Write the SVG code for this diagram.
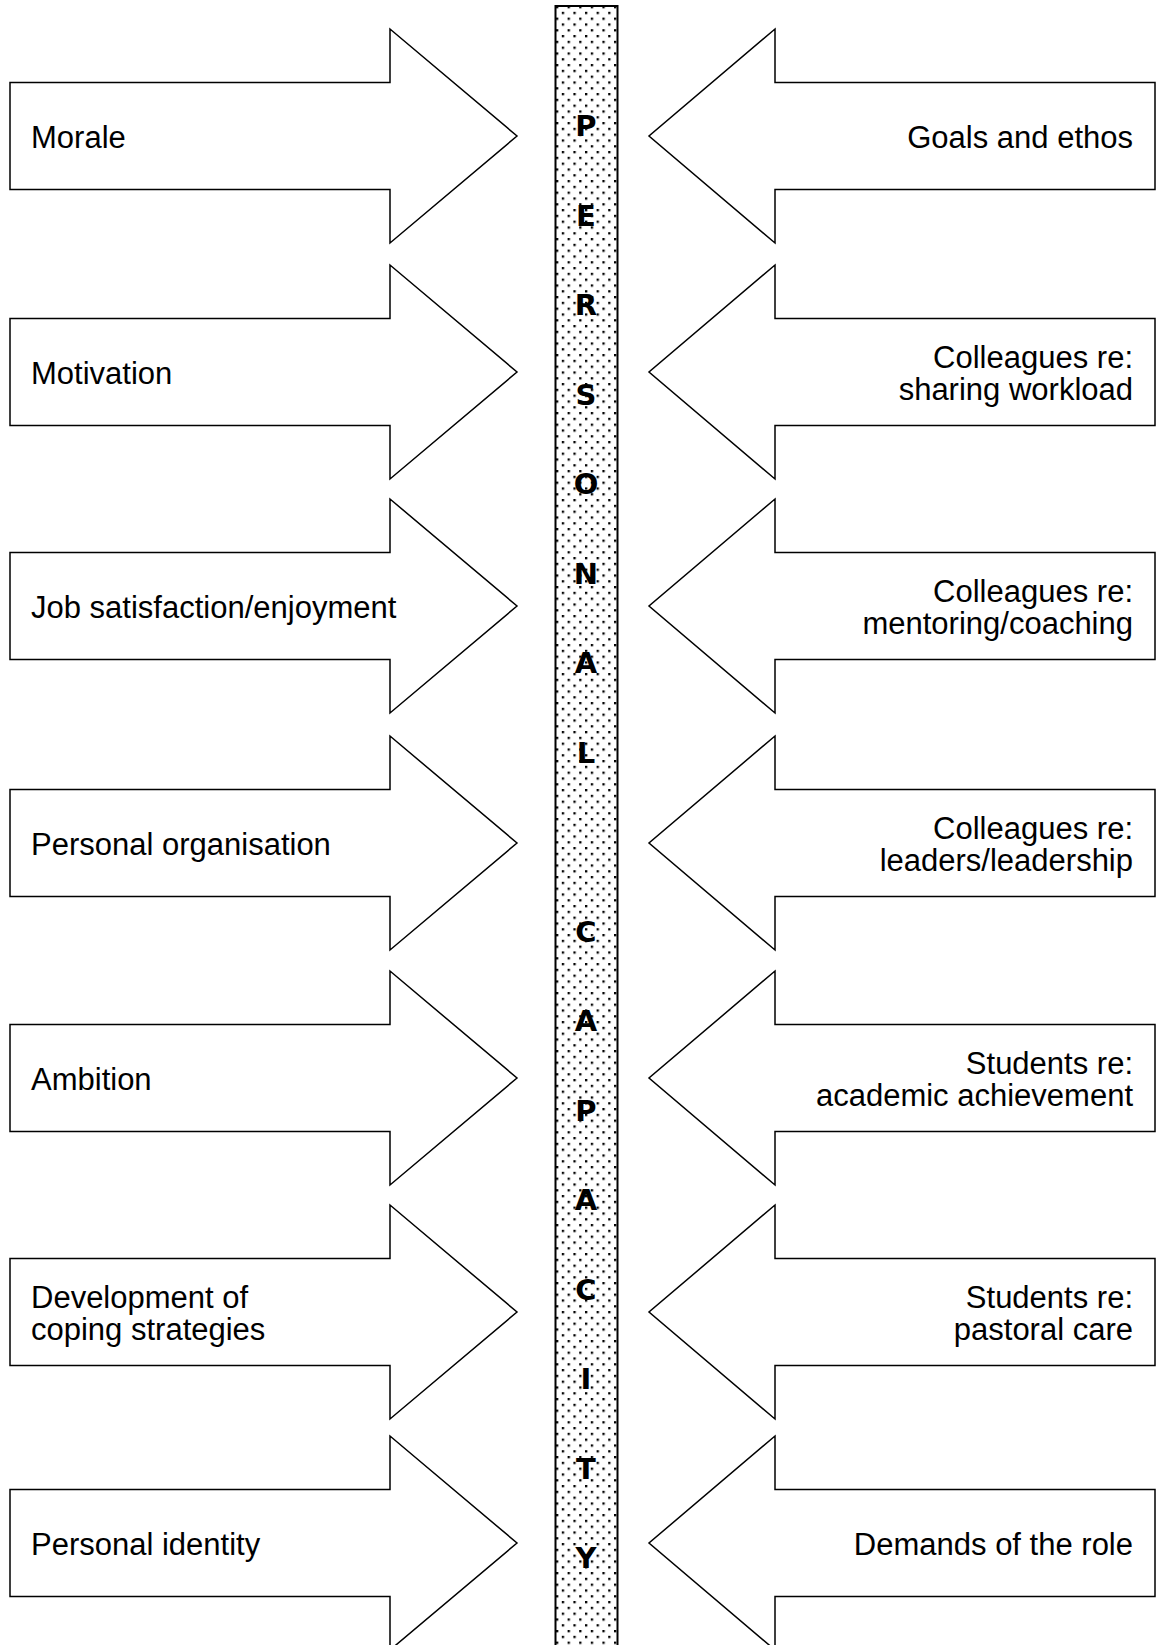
<svg xmlns="http://www.w3.org/2000/svg" xmlns:xlink="http://www.w3.org/1999/xlink" width="1160" height="1645" viewBox="0 0 1160 1645">
<style>
.arrow{fill:#ffffff;stroke:#000000;stroke-width:1.5;stroke-linejoin:miter}
.lbl{font-family:"Liberation Sans",Arial,sans-serif;font-size:31px;fill:#000000}
.end{text-anchor:end}
.ltr{font-family:"DejaVu Sans","Liberation Sans",sans-serif;font-size:29px;font-weight:bold;fill:#000000;text-anchor:middle}
</style>
<defs>
<pattern id="dots" patternUnits="userSpaceOnUse" x="556" y="6" width="11.6" height="11.6">
<rect x="0" y="0" width="2.3" height="2.3" fill="#000"/>
<rect x="5.8" y="5.8" width="2.3" height="2.3" fill="#000"/>
</pattern>
<path id="arrowL" d="M10,-53.5 H390 V-107 L517,0 L390,107 V53.5 H10 Z"/>
<path id="arrowR" d="M1155,-53.5 H775 V-107 L649,0 L775,107 V53.5 H1155 Z"/>
</defs>
<rect width="1160" height="1645" fill="#ffffff"/>

<g id="bar">
<rect x="555.5" y="6" width="62" height="1650" fill="url(#dots)" stroke="#000" stroke-width="2"/>
<text class="ltr" x="586" y="136">P</text>
<text class="ltr" x="586" y="225.5">E</text>
<text class="ltr" x="586" y="315">R</text>
<text class="ltr" x="586" y="404.5">S</text>
<text class="ltr" x="586" y="494">O</text>
<text class="ltr" x="586" y="583.5">N</text>
<text class="ltr" x="586" y="673">A</text>
<text class="ltr" x="586" y="762.5">L</text>
<text class="ltr" x="586" y="941.5">C</text>
<text class="ltr" x="586" y="1031">A</text>
<text class="ltr" x="586" y="1120.5">P</text>
<text class="ltr" x="586" y="1210">A</text>
<text class="ltr" x="586" y="1299.5">C</text>
<text class="ltr" x="586" y="1389">I</text>
<text class="ltr" x="586" y="1478.5">T</text>
<text class="ltr" x="586" y="1568">Y</text>
</g>

<g id="left1" transform="translate(0,136)"><use xlink:href="#arrowL" class="arrow"/><text class="lbl" x="31" y="12">Morale</text></g>
<g id="left2" transform="translate(0,372)"><use xlink:href="#arrowL" class="arrow"/><text class="lbl" x="31" y="12">Motivation</text></g>
<g id="left3" transform="translate(0,606)"><use xlink:href="#arrowL" class="arrow"/><text class="lbl" x="31" y="12">Job satisfaction/enjoyment</text></g>
<g id="left4" transform="translate(0,843)"><use xlink:href="#arrowL" class="arrow"/><text class="lbl" x="31" y="12">Personal organisation</text></g>
<g id="left5" transform="translate(0,1078)"><use xlink:href="#arrowL" class="arrow"/><text class="lbl" x="31" y="12">Ambition</text></g>
<g id="left6" transform="translate(0,1312)"><use xlink:href="#arrowL" class="arrow"/><text class="lbl" x="31" y="-4">Development of</text><text class="lbl" x="31" y="28">coping strategies</text></g>
<g id="left7" transform="translate(0,1543)"><use xlink:href="#arrowL" class="arrow"/><text class="lbl" x="31" y="12">Personal identity</text></g>

<g id="right1" transform="translate(0,136)"><use xlink:href="#arrowR" class="arrow"/><text class="lbl end" x="1133" y="12">Goals and ethos</text></g>
<g id="right2" transform="translate(0,372)"><use xlink:href="#arrowR" class="arrow"/><text class="lbl end" x="1133" y="-4">Colleagues re:</text><text class="lbl end" x="1133" y="28">sharing workload</text></g>
<g id="right3" transform="translate(0,606)"><use xlink:href="#arrowR" class="arrow"/><text class="lbl end" x="1133" y="-4">Colleagues re:</text><text class="lbl end" x="1133" y="28">mentoring/coaching</text></g>
<g id="right4" transform="translate(0,843)"><use xlink:href="#arrowR" class="arrow"/><text class="lbl end" x="1133" y="-4">Colleagues re:</text><text class="lbl end" x="1133" y="28">leaders/leadership</text></g>
<g id="right5" transform="translate(0,1078)"><use xlink:href="#arrowR" class="arrow"/><text class="lbl end" x="1133" y="-4">Students re:</text><text class="lbl end" x="1133" y="28">academic achievement</text></g>
<g id="right6" transform="translate(0,1312)"><use xlink:href="#arrowR" class="arrow"/><text class="lbl end" x="1133" y="-4">Students re:</text><text class="lbl end" x="1133" y="28">pastoral care</text></g>
<g id="right7" transform="translate(0,1543)"><use xlink:href="#arrowR" class="arrow"/><text class="lbl end" x="1133" y="12">Demands of the role</text></g>
</svg>
